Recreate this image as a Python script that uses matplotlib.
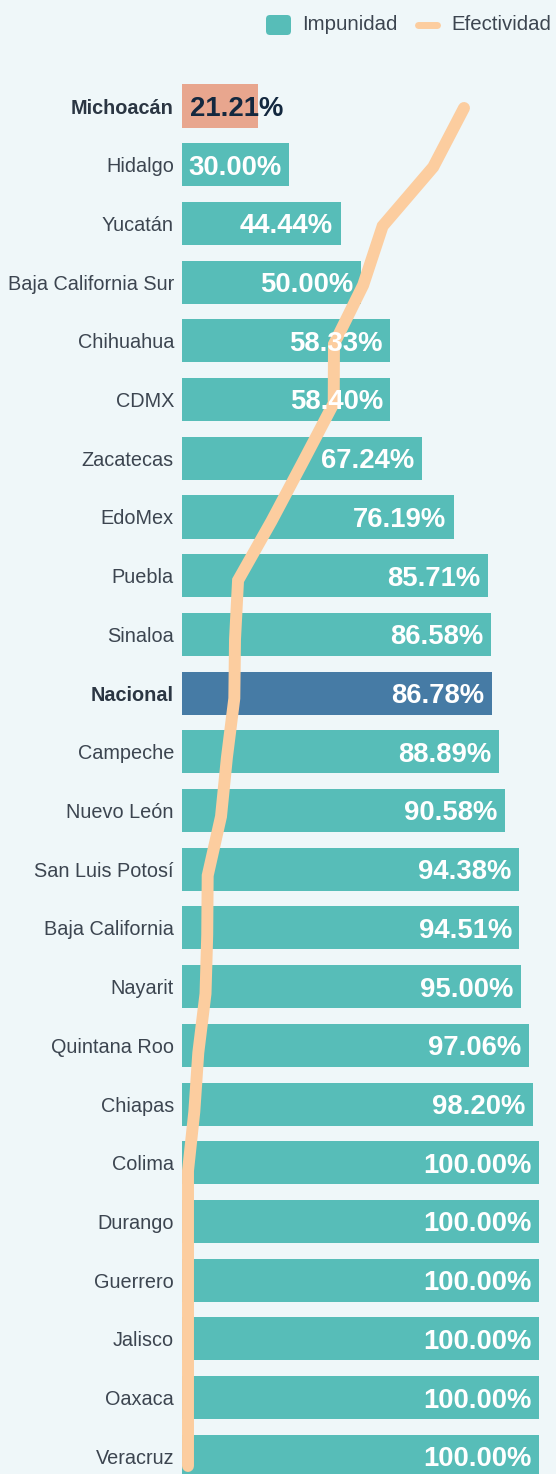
import matplotlib
matplotlib.use("Agg")
import matplotlib.pyplot as plt
import matplotlib.transforms as mtransforms
from matplotlib.patches import FancyBboxPatch
from matplotlib.lines import Line2D

plt.rcParams["font.family"] = ["Liberation Sans", "DejaVu Sans"]

# ---------------- data ----------------
states = ["Michoacán", "Hidalgo", "Yucatán", "Baja California Sur", "Chihuahua",
          "CDMX", "Zacatecas", "EdoMex", "Puebla", "Sinaloa", "Nacional",
          "Campeche", "Nuevo León", "San Luis Potosí", "Baja California",
          "Nayarit", "Quintana Roo", "Chiapas", "Colima", "Durango",
          "Guerrero", "Jalisco", "Oaxaca", "Veracruz"]
impunidad = [21.21, 30.00, 44.44, 50.00, 58.33, 58.40, 67.24, 76.19, 85.71,
             86.58, 86.78, 88.89, 90.58, 94.38, 94.51, 95.00, 97.06, 98.20,
             100.00, 100.00, 100.00, 100.00, 100.00, 100.00]
efectividad = [78.79, 70.00, 55.56, 50.00, 41.67, 41.60, 32.76, 23.81, 14.29,
               13.42, 13.22, 11.11, 9.42, 5.62, 5.49, 5.00, 2.94, 1.80,
               0.00, 0.00, 0.00, 0.00, 0.00, 0.00]
highlight_colors = {"Michoacán": "#e8a68e", "Nacional": "#467ba5"}
bold_states = ["Michoacán", "Nacional"]
legend_labels = ["Impunidad", "Efectividad"]

# ---------------- style ----------------
W, H = 556, 1474
BG = "#eff7f9"
TEAL = "#57bdb8"
PEACH = "#fccd9f"
TXT = "#3c4550"
TXT_BOLD = "#2b3643"
LABEL_SIZE = 14.3
VALUE_SIZE = 19.8

fig = plt.figure(figsize=(W / 100, H / 100), dpi=100)
fig.patch.set_facecolor(BG)


def px_rect(left, top, right, bottom):
    return [left / W, 1 - bottom / H, (right - left) / W, (bottom - top) / H]


# bar axes
ax = fig.add_axes(px_rect(182, 76.65, 539, 1474))
ax.set_facecolor("none")
idx = list(range(len(states)))
colors = [highlight_colors.get(s, TEAL) for s in states]
ax.barh(idx, impunidad, height=0.733, color=colors, zorder=2)
ax.set_xlim(0, 100)
ax.set_ylim(23.30, -0.5)
ax.set_yticks(idx, states)
ax.set_xticks([])
ax.tick_params(axis="y", length=0, pad=5.8, labelsize=LABEL_SIZE, labelcolor=TXT)
for lbl in ax.get_yticklabels():
    if lbl.get_text() in bold_states:
        lbl.set_fontweight("bold")
        lbl.set_color(TXT_BOLD)
for sp in ax.spines.values():
    sp.set_visible(False)

# scale axes for the efectividad line (slightly offset in the original)
ax2 = fig.add_axes(px_rect(188, 108, 538.3, 1466))
ax2.set_xlim(0, 100)
ax2.set_ylim(len(states) - 1, 0)
ax2.set_axis_off()
ax2.set_zorder(-1)

ax.plot(efectividad, idx, transform=ax2.transData, color=PEACH, lw=8.6,
        solid_capstyle="round", solid_joinstyle="miter", clip_on=False,
        zorder=3)

# value labels (digits vertically centred on the bar)
cap_half = VALUE_SIZE * 100 / 72 * 0.716 / 2
tr_in = mtransforms.offset_copy(ax.transData, fig=fig, x=-7.5, y=-cap_half, units="dots")
tr_out = mtransforms.offset_copy(ax.transData, fig=fig, x=8, y=-cap_half, units="dots")
for i, (s, v) in enumerate(zip(states, impunidad)):
    label = f"{v:.2f}%"
    if s == "Michoacán":
        ax.text(0, i, label, transform=tr_out, ha="left", va="baseline",
                color="#13283f", fontsize=VALUE_SIZE, fontweight="bold", zorder=4)
    else:
        ax.text(v, i, label, transform=tr_in, ha="right", va="baseline",
                color="white", fontsize=VALUE_SIZE, fontweight="bold", zorder=4)

# legend (drawn manually in pixel coordinates)
ident = mtransforms.IdentityTransform()
fig.add_artist(FancyBboxPatch((266, H - 35), 25, 20,
                              boxstyle="round,pad=0,rounding_size=4",
                              facecolor=TEAL, edgecolor="none",
                              transform=ident))
fig.add_artist(Line2D([417.5, 436.5], [H - 25, H - 25], color=PEACH, lw=5,
                      solid_capstyle="round", transform=ident))
fig.text(302 / W, 1 - 25 / H, legend_labels[0], ha="left", va="center",
         fontsize=LABEL_SIZE + 0.4, color=TXT)
fig.text(451 / W, 1 - 25 / H, legend_labels[1], ha="left", va="center",
         fontsize=LABEL_SIZE + 0.4, color=TXT)

fig.savefig("out.png", dpi=100, facecolor=BG)
